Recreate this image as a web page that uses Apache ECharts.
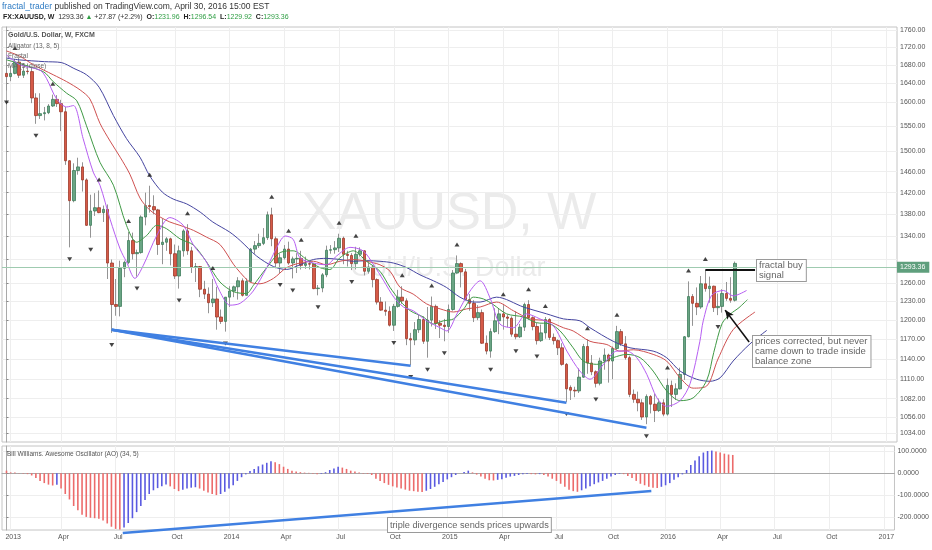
<!DOCTYPE html>
<html><head><meta charset="utf-8">
<script src="https://cdn.jsdelivr.net/npm/echarts@6/dist/echarts.min.js"></script>
<style>html,body{margin:0;padding:0;background:#fff}#c{width:932px;height:550px}</style>
</head><body><div id="c"></div>
<script>
// ---------------- DATA ----------------
const weekStart = '2012-12-31'; // week index 0
const candleOpen = [1662,1655,1662,1687,1658,1667,1666,1609,1572,1576,1578,1592,1606,1597,1580,1481,1405,1462,1469,1444,1360,1386,1392,1383,1389,1294,1225,1222,1285,1295,1333,1310,1312,1375,1396,1394,1388,1326,1330,1336,1310,1272,1315,1350,1315,1287,1288,1250,1242,1228,1234,1205,1198,1237,1247,1254,1264,1240,1263,1318,1324,1328,1338,1379,1336,1294,1303,1318,1294,1301,1302,1290,1293,1292,1251,1252,1274,1316,1317,1320,1337,1309,1307,1293,1309,1315,1280,1287,1266,1229,1216,1214,1192,1222,1237,1231,1171,1169,1185,1201,1167,1200,1222,1195,1192,1190,1217,1277,1293,1279,1233,1227,1204,1212,1164,1152,1182,1199,1210,1205,1203,1178,1174,1189,1225,1204,1190,1168,1180,1201,1173,1168,1157,1132,1098,1094,1093,1113,1159,1134,1121,1104,1137,1146,1137,1156,1182,1163,1142,1088,1081,1076,1056,1085,1074,1065,1076,1060,1101,1088,1096,1117,1174,1238,1227,1221,1259,1251,1255,1220,1222,1243,1235,1231.96];
const candleHigh = [1693,1679,1694,1696,1685,1684,1677,1619,1619,1590,1596,1616,1615,1605,1590,1482,1476,1487,1478,1447,1416,1419,1424,1396,1398,1300,1267,1298,1298,1348,1347,1317,1378,1420,1433,1415,1390,1372,1339,1338,1326,1324,1353,1362,1322,1294,1289,1264,1253,1267,1254,1217,1237,1255,1256,1270,1268,1268,1320,1332,1345,1355,1385,1392,1340,1310,1325,1331,1305,1311,1315,1305,1296,1294,1257,1277,1324,1325,1332,1345,1340,1315,1311,1322,1321,1316,1294,1290,1268,1237,1230,1222,1226,1249,1255,1235,1180,1197,1208,1206,1221,1238,1225,1200,1202,1225,1282,1307,1295,1284,1242,1232,1224,1217,1176,1187,1219,1219,1224,1209,1206,1214,1194,1228,1232,1206,1196,1193,1205,1203,1179,1170,1164,1134,1101,1099,1126,1163,1170,1146,1123,1142,1156,1148,1159,1191,1186,1175,1145,1095,1092,1081,1088,1087,1089,1082,1081,1111,1108,1104,1127,1175,1263,1242,1253,1272,1282,1271,1256,1243,1250,1262,1270,1296.54];
const candleLow = [1625,1645,1660,1652,1652,1660,1598,1555,1565,1562,1575,1590,1590,1540,1473,1321,1402,1454,1422,1359,1338,1377,1382,1366,1267,1180,1207,1206,1270,1292,1300,1271,1310,1360,1383,1380,1308,1292,1315,1290,1267,1251,1305,1308,1277,1262,1237,1234,1211,1221,1185,1194,1182,1221,1237,1233,1238,1240,1262,1310,1320,1325,1334,1323,1285,1277,1300,1291,1268,1277,1283,1284,1283,1250,1240,1245,1270,1310,1310,1313,1292,1288,1282,1283,1305,1273,1276,1253,1225,1215,1207,1190,1183,1220,1226,1161,1131,1161,1180,1163,1142,1190,1186,1172,1167,1180,1215,1276,1253,1232,1215,1197,1200,1163,1147,1142,1180,1178,1185,1189,1174,1170,1172,1183,1201,1184,1162,1166,1171,1169,1162,1146,1130,1077,1080,1084,1090,1112,1118,1116,1098,1101,1124,1105,1110,1154,1160,1139,1084,1076,1064,1052,1046,1061,1049,1063,1057,1058,1070,1080,1095,1109,1173,1191,1208,1218,1246,1228,1213,1208,1212,1231,1228,1229.92];
const candleClose = [1655,1662,1687,1658,1667,1666,1609,1572,1576,1578,1592,1606,1597,1580,1481,1405,1462,1469,1444,1360,1386,1392,1383,1389,1294,1225,1222,1285,1295,1333,1310,1312,1375,1396,1394,1388,1326,1330,1336,1310,1272,1315,1350,1315,1287,1288,1250,1242,1228,1234,1205,1198,1237,1247,1254,1264,1240,1263,1318,1324,1328,1338,1379,1336,1294,1303,1318,1294,1301,1302,1290,1293,1292,1251,1252,1274,1316,1317,1320,1337,1309,1307,1293,1309,1315,1280,1287,1266,1229,1216,1214,1192,1222,1237,1231,1171,1169,1185,1201,1167,1200,1222,1195,1192,1190,1217,1277,1293,1279,1233,1227,1204,1212,1164,1152,1182,1199,1210,1205,1203,1178,1174,1189,1225,1204,1190,1168,1180,1201,1173,1168,1157,1132,1096,1094,1093,1113,1159,1134,1121,1104,1137,1146,1137,1156,1182,1163,1142,1088,1081,1076,1056,1085,1074,1065,1076,1060,1101,1088,1096,1117,1174,1238,1227,1221,1259,1251,1255,1220,1222,1243,1235,1232,1293.36];
const aoValues = [12,4,3,1,-2,-4,-10,-22,-35,-45,-52,-56,-53,-70,-95,-120,-150,-170,-190,-200,-204,-206,-208,-216,-230,-245,-255,-258,-248,-228,-206,-178,-150,-122,-95,-78,-68,-60,-52,-60,-72,-82,-75,-70,-66,-64,-70,-80,-88,-95,-100,-95,-85,-70,-55,-35,-18,-5,10,20,32,40,48,55,50,42,30,20,12,8,5,3,2,-2,-5,-3,5,15,22,30,26,20,12,8,3,-2,-3,-8,-25,-35,-45,-53,-60,-65,-70,-75,-80,-82,-85,-86,-80,-72,-62,-50,-40,-28,-18,-8,0,6,12,4,-6,-15,-25,-32,-33,-30,-27,-20,-15,-12,-8,-5,-3,-4,-5,-4,-8,-15,-25,-35,-48,-62,-75,-82,-85,-78,-70,-60,-50,-42,-35,-25,-15,-8,-3,-4,-12,-22,-35,-48,-55,-62,-66,-68,-62,-55,-45,-30,-18,-5,15,38,58,78,95,102,104,100,95,90,86,84];
// Alligator + MA lines: [week index, price]
const jawLine = [[0,1696],[3,1692],[9,1688],[13,1686],[16,1673],[19,1659],[22,1632],[25.4,1572],[28.5,1525],[31.7,1488],[34,1452],[37,1421],[39.6,1408],[42.8,1399],[46,1384],[49,1366],[53,1348],[55.5,1333],[59.4,1306],[63.4,1288],[66.5,1283],[69.7,1291],[72.9,1300],[76,1302],[79.2,1300],[82.4,1297],[85.5,1298],[88.7,1297],[91.9,1294],[95.1,1286],[98.2,1274],[101.4,1264],[104.5,1253],[107.7,1237],[110.9,1229],[112.5,1229],[116.4,1237],[122.8,1221],[128.3,1210],[132.3,1202],[136.2,1199],[138.6,1188],[144.1,1167],[148.1,1157],[153.6,1152],[156.8,1142],[160,1122],[163.9,1110],[167.1,1107],[169.5,1112],[172.6,1137],[176.6,1163],[180.6,1184]];
const teethLine = [[0,1712],[3.2,1700],[6.4,1681],[11.1,1659],[14.3,1644],[17.5,1626],[19.8,1607],[22.2,1556],[24.6,1520],[27,1488],[29.3,1455],[31.7,1410],[34,1388],[36.5,1375],[38.8,1366],[41.2,1360],[44.4,1351],[47.5,1339],[50.7,1326],[53.9,1292],[55.5,1278],[57.8,1262],[60.2,1259],[63.4,1268],[66.5,1286],[69.7,1294],[72.9,1297],[76,1291],[79.2,1297],[82.4,1300],[85.5,1297],[88.7,1291],[91.1,1280],[93.5,1253],[96.6,1242],[99.8,1226],[103,1218],[106.2,1213],[109.3,1218],[112.5,1221],[116.4,1229],[120.4,1215],[124.3,1202],[128.3,1199],[132.3,1188],[134.6,1183],[138.6,1167],[142.6,1162],[145.7,1152],[148.9,1154],[153.6,1147],[156.8,1137],[160,1112],[163.1,1097],[166.3,1100],[169,1140],[172.6,1185],[177.8,1213]];
const lipsLine = [[0,1692],[8.7,1666],[11.1,1644],[14.3,1619],[16.7,1603],[19,1551],[22.2,1478],[25.4,1434],[28.5,1360],[30.9,1330],[33.3,1342],[35.7,1360],[38,1354],[41.2,1336],[44.4,1325],[47.5,1296],[50.7,1262],[53.9,1246],[57,1243],[58.6,1256],[61.8,1286],[65,1312],[68.1,1315],[71.3,1300],[74.5,1286],[76.8,1283],[79.2,1303],[82.4,1315],[85.5,1297],[88.7,1280],[91.1,1253],[93.5,1231],[95.9,1215],[99,1205],[101.4,1194],[103.8,1199],[106.2,1202],[108.6,1218],[110.9,1237],[113.3,1234],[115.6,1225],[118.8,1210],[122.8,1205],[125.9,1196],[129.1,1194],[131.5,1183],[134.6,1157],[137,1137],[140.2,1132],[144.1,1142],[147.3,1147],[150.5,1142],[153.6,1122],[156.8,1093],[160,1079],[163.1,1083],[166.3,1108],[168,1150],[170,1195],[172,1210],[174,1220],[176,1233]];
const maLine = [[0,1703],[3.2,1681],[8,1669],[9.5,1651],[11.9,1607],[14.3,1590],[15.9,1593],[18.2,1525],[20.6,1459],[22.2,1434],[24.6,1371],[27,1318],[28.5,1296],[30.5,1268],[32.5,1290],[35.7,1342],[38.8,1374],[42,1360],[44.4,1325],[47.5,1296],[50.7,1246],[53.1,1224],[55.5,1227],[58.6,1247],[61.8,1286],[65,1332],[66.2,1341],[68.1,1335],[69.7,1303],[72.9,1294],[76,1291],[78.4,1306],[81.6,1321],[84.7,1315],[87.2,1291],[89.6,1264],[92,1237],[94.3,1221],[96.6,1215],[99.8,1199],[103,1188],[104.6,1183],[107,1210],[110.1,1247],[112.5,1264],[114.9,1235],[117.2,1194],[120.4,1188],[123.5,1210],[126.7,1202],[129.9,1191],[133.1,1152],[136.2,1122],[138.6,1110],[141.8,1132],[145,1152],[147.3,1152],[149.7,1142],[152.1,1117],[154.5,1083],[156.8,1071],[160,1079],[162.4,1104],[164.7,1167],[165.5,1199],[167.5,1240],[170.3,1248],[172.6,1239],[175.8,1248]];
const fractalUpIdx = [2,11,22,29,34,43,49,63,67,70,79,83,94,101,107,118,124,128,138,145,157,162,166];
const fractalDownIdx = [0,7,15,20,25,31,41,52,65,68,74,82,92,96,100,104,115,121,126,133,140,152,169];
const priceLabelValues = [1034,1056,1082,1110,1140,1170,1200,1230,1260,1340,1380,1420,1460,1500,1550,1600,1640,1680,1720,1760];
const priceGridValues = [1034,1056,1082,1110,1140,1170,1200,1230,1260,1300,1340,1380,1420,1460,1500,1550,1600,1640,1680,1720,1760];
const aoTickValues = [100,0,-100,-200];
const timeTicks = [['2013-01-07','2013'],['2013-04-01','Apr'],['2013-07-01','Jul'],['2013-10-07','Oct'],['2014-01-06','2014'],['2014-04-07','Apr'],['2014-07-07','Jul'],['2014-10-06','Oct'],['2015-01-05','2015'],['2015-04-06','Apr'],['2015-07-06','Jul'],['2015-10-05','Oct'],['2016-01-04','2016'],['2016-04-04','Apr'],['2016-07-04','Jul'],['2016-10-03','Oct'],['2017-01-02','2017']];
const priceTrendLines = [[[25,1185],[96,1130]],[[25,1185],[133,1076]],[[25,1185],[152,1041]]];
const aoTrendLine = [[27.7,-274],[153.6,-81]];
const buySignalLine = [[166,1282],[177.8,1282]];
const arrowLine = [[176.4,1166],[170.7,1216]];
const lastPrice = 1293.36;

// ---------------- LAYOUT ----------------
const FONT = '"Liberation Sans", Arial, sans-serif';
const PX0 = 6.5, PXW = 4.21, GL = 2, GR = 897;
const xMin = (GL - PX0) / PXW, xMax = (GR - PX0) / PXW;
const lg = Math.log;
const yMax = lg(1760) + (30 - 27) / 757.6, yMin = lg(1760) - (442 - 30) / 757.6;
const wk = d => Math.round((Date.parse(d) - Date.parse(weekStart)) / (7 * 864e5));
const tickIdx = timeTicks.map(t => wk(t[0]));
const tickLabel = {}; timeTicks.forEach(t => { tickLabel[wk(t[0])] = t[1]; });
const idx = candleOpen.map((_, i) => i);

const UP = '#6aa584', DOWN = '#d65a47';
const lineSer = (data, color, w) => ({type:'line', xAxisIndex:0, yAxisIndex:0, data: data.map(p => [p[0], lg(p[1])]), smooth:0.3, showSymbol:false, symbol:'none', lineStyle:{color, width:w||1}, z:4, silent:true});

const series = [
  {type:'candlestick', xAxisIndex:0, yAxisIndex:0, barWidth:1, encode:{x:0, y:[1,2,3,4]},
   data: idx.map(i => [i, lg(candleOpen[i]), lg(candleClose[i]), lg(candleLow[i]), lg(candleHigh[i])]),
   itemStyle:{color:'#949494', color0:'#949494', borderColor:'#949494', borderColor0:'#949494', borderColorDoji:'#949494', borderWidth:1}, z:2, silent:true},
  {type:'candlestick', xAxisIndex:0, yAxisIndex:0, barWidth:3, encode:{x:0, y:[1,2,3,4]},
   data: idx.map(i => [i, lg(candleOpen[i]), lg(candleClose[i]), lg(Math.min(candleOpen[i], candleClose[i])), lg(Math.max(candleOpen[i], candleClose[i]))]),
   itemStyle:{color:UP, color0:DOWN, borderColor:'#3f7d5c', borderColor0:'#9d3a2b', borderColorDoji:'#666', borderWidth:0.8}, z:3, silent:true,
   markLine:{symbol:'none', silent:true, animation:false, data:[{yAxis: lg(lastPrice)}],
     lineStyle:{color:'#9fcbb0', width:1, type:'solid'},
     label:{show:true, position:'end', distance:0, formatter: lastPrice.toFixed(2), backgroundColor:'#5f9f7d', color:'#fff', fontSize:7, fontFamily:FONT, padding:[2,4,2,3]}}},
  lineSer(jawLine, '#4545a0'),
  lineSer(teethLine, '#cf5151'),
  lineSer(lipsLine, '#3f9a45'),
  lineSer(maLine, '#b65ef2'),
  {type:'scatter', xAxisIndex:0, yAxisIndex:0, data: fractalUpIdx.map(i => [i, lg(candleHigh[i])]), symbol:'triangle', symbolSize:[5,4], symbolOffset:[0,-11], itemStyle:{color:'#151515'}, z:5, silent:true},
  {type:'scatter', xAxisIndex:0, yAxisIndex:0, data: fractalDownIdx.map(i => [i, lg(candleLow[i])]), symbol:'triangle', symbolRotate:180, symbolSize:[5,4], symbolOffset:[0,12], itemStyle:{color:'#151515'}, z:5, silent:true},
  ...priceTrendLines.map(tl => ({type:'line', xAxisIndex:0, yAxisIndex:0, data: tl.map(p => [p[0], lg(p[1])]), symbol:'none', lineStyle:{color:'#4080e2', width:2.6}, z:6, silent:true})),
  {type:'line', xAxisIndex:0, yAxisIndex:0, data: buySignalLine.map(p => [p[0], lg(p[1])]), symbol:'none', lineStyle:{color:'#111', width:2}, z:6, silent:true, clip:false,
   markLine:{silent:true, animation:false, symbol:['none','arrow'], symbolSize:[6,9], lineStyle:{color:'#111', width:1.6, type:'solid'}, label:{show:false},
     data:[[{coord:[arrowLine[0][0], lg(arrowLine[0][1])]}, {coord:[arrowLine[1][0], lg(arrowLine[1][1])]}]]}},
  {type:'bar', xAxisIndex:1, yAxisIndex:1, barWidth:1.6, silent:true,
   data: aoValues.map((v, i) => ({value:[i, v], itemStyle:{color: (i === 0 || v < aoValues[i-1]) ? '#ec6b6b' : '#5a5ae0'}}))},
  {type:'line', xAxisIndex:1, yAxisIndex:1, data: aoTrendLine, symbol:'none', clip:false, lineStyle:{color:'#4080e2', width:2.6}, z:6, silent:true}
];

const axisLabelStyle = {fontSize:7, color:'#555', fontFamily:FONT};
const option = {
  animation:false,
  backgroundColor:'#fff',
  grid:[
    {left:GL, width:GR-GL, top:27, height:415, show:true, borderColor:'#c4c4c4', borderWidth:1, backgroundColor:'transparent'},
    {left:GL, width:GR-GL, top:446, height:84, show:true, borderColor:'#c4c4c4', borderWidth:1, backgroundColor:'transparent'}
  ],
  xAxis:[
    {type:'value', gridIndex:0, min:xMin, max:xMax, axisLine:{show:false}, axisLabel:{show:false, customValues:tickIdx}, axisTick:{show:false, customValues:tickIdx}, splitLine:{show:true, lineStyle:{color:'#eeeeee'}}},
    {type:'value', gridIndex:1, min:xMin, max:xMax, axisLine:{show:true, lineStyle:{color:'#a9a9a9'}},
     axisLabel:Object.assign({customValues:tickIdx, margin:4, padding:[0,0,0,5], formatter: v => tickLabel[Math.round(v)] || ''}, axisLabelStyle),
     axisTick:{show:false, customValues:tickIdx}, splitLine:{show:true, lineStyle:{color:'#eeeeee'}}}
  ],
  yAxis:[
    {type:'value', gridIndex:0, position:'right', min:yMin, max:yMax, scale:true,
     axisLine:{show:true, lineStyle:{color:'#a9a9a9'}},
     axisTick:{show:true, length:2, customValues:priceGridValues.map(lg), lineStyle:{color:'#888'}},
     axisLabel:Object.assign({customValues:priceLabelValues.map(lg), margin:3, formatter: v => Math.exp(v).toFixed(2)}, axisLabelStyle),
     splitLine:{show:true, lineStyle:{color:'#eeeeee'}}},
    {type:'value', gridIndex:1, position:'right', min:-260, max:125,
     axisLine:{show:true, lineStyle:{color:'#a9a9a9'}},
     axisTick:{show:true, length:2, customValues:aoTickValues, lineStyle:{color:'#888'}},
     axisLabel:Object.assign({customValues:aoTickValues, margin:3, formatter: v => v.toFixed(4)}, axisLabelStyle),
     splitLine:{show:true, lineStyle:{color:'#eeeeee'}}}
  ],
  graphic:[
    {type:'text', x:449, y:215, z:0, silent:true, style:{text:'XAUUSD, W', fontSize:52, fontFamily:FONT, fill:'#ebebeb', align:'center', verticalAlign:'middle'}},
    {type:'text', x:448, y:269, z:0, silent:true, style:{text:'Gold/U.S. Dollar', fontSize:27, fontFamily:FONT, fill:'#ebebeb', align:'center', verticalAlign:'middle'}},
    {type:'text', x:2, y:2, z:50, silent:true, style:{text:'{a|fractal_trader} published on TradingView.com, April 30, 2016 15:00 EST', fontSize:8.5, fontFamily:FONT, fill:'#333', rich:{a:{fill:'#2d7bc4', fontSize:8.5, fontFamily:FONT}}}},
    {type:'text', x:3, y:14, z:50, silent:true, style:{text:'{b|FX:XAUUSD, W}  1293.36 {g|▲} +27.87 (+2.2%)  {b|O:}{g|1231.96}  {b|H:}{g|1296.54}  {b|L:}{g|1229.92}  {b|C:}{g|1293.36}', fontSize:7, fontFamily:FONT, fill:'#333',
      rich:{b:{fontWeight:'bold', fontSize:7, fontFamily:FONT, fill:'#222'}, g:{fill:'#2f9e44', fontSize:7, fontFamily:FONT}}}},
    {type:'text', x:8, y:32, z:50, silent:true, style:{text:'Gold/U.S. Dollar, W, FXCM', fontSize:7, fontWeight:'bold', fontFamily:FONT, fill:'#555'}},
    {type:'text', x:8, y:43, z:50, silent:true, style:{text:'Alligator (13, 8, 5)', fontSize:6.5, fontFamily:FONT, fill:'#666'}},
    {type:'text', x:8, y:53, z:50, silent:true, style:{text:'Fractal', fontSize:6.5, fontFamily:FONT, fill:'#666'}},
    {type:'text', x:8, y:63, z:50, silent:true, style:{text:'MA (5, close)', fontSize:6.5, fontFamily:FONT, fill:'#666'}},
    {type:'text', x:7, y:451, z:50, silent:true, style:{text:'Bill Williams. Awesome Oscillator (AO) (34, 5)', fontSize:6.5, fontFamily:FONT, fill:'#555'}},
    {type:'text', x:757, y:260, z:60, silent:true, style:{text:'fractal buy\nsignal', fontSize:9.5, lineHeight:10.5, fontFamily:FONT, fill:'#666', backgroundColor:'#fff', borderColor:'#9a9a9a', borderWidth:1, padding:[0,3,0,2]}},
    {type:'text', x:753, y:336, z:60, silent:true, style:{text:'prices corrected, but never\ncame down to trade inside\nbalance zone', fontSize:9.5, lineHeight:10.3, fontFamily:FONT, fill:'#666', backgroundColor:'#fff', borderColor:'#9a9a9a', borderWidth:1, padding:[0,3,0,2]}},
    {type:'text', x:388, y:518, z:60, silent:true, style:{text:'triple divergence sends prices upwards', fontSize:9.2, lineHeight:13, fontFamily:FONT, fill:'#666', backgroundColor:'#fff', borderColor:'#9a9a9a', borderWidth:1, padding:[1,2,0,2]}}
  ],
  series
};
const chart = echarts.init(document.getElementById('c'));
chart.setOption(option);
</script></body></html>
